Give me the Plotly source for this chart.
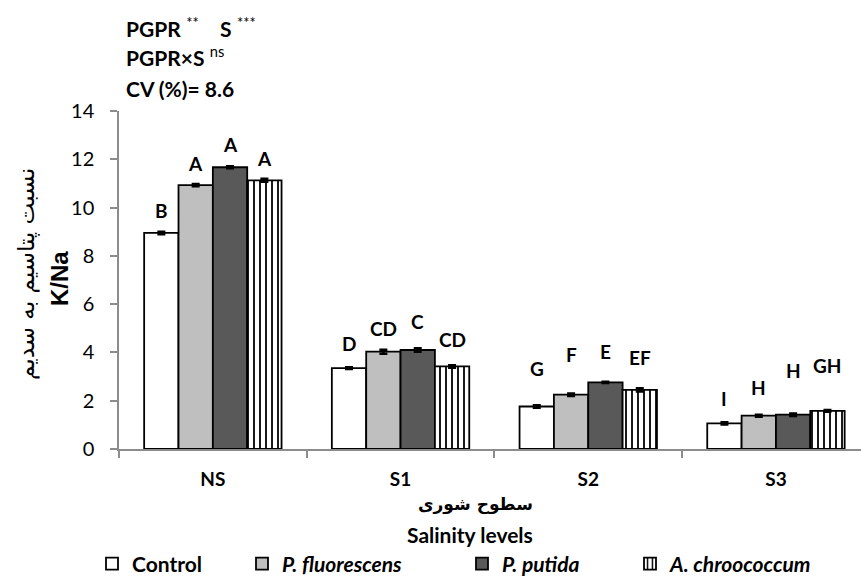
import plotly.graph_objects as go

categories = ["NS", "S1", "S2", "S3"]
series_names = ["Control", "P. fluorescens", "P. putida", "A. chroococcum"]
legend_labels = ["<b>Control</b>", "<b><i>P. fluorescens</i></b>", "<b><i>P. putida</i></b>", "<b><i>A. chroococcum</i></b>"]

control = [8.95, 3.35, 1.76, 1.06]
fluorescens = [10.93, 4.03, 2.25, 1.38]
putida = [11.67, 4.10, 2.76, 1.42]
chroococcum = [11.13, 3.42, 2.45, 1.58]

err_control = [0.05, 0.04, 0.05, 0.05]
err_fluorescens = [0.05, 0.08, 0.05, 0.04]
err_putida = [0.04, 0.07, 0.03, 0.05]
err_chroococcum = [0.06, 0.05, 0.07, 0.04]

letters_control = ["B", "D", "G", "I"]
letters_fluorescens = ["A", "CD", "F", "H"]
letters_putida = ["A", "C", "E", "H"]
letters_chroococcum = ["A", "CD", "EF", "GH"]

letter_y_control = [9.86, 4.39, 3.32, 2.08]
letter_y_fluorescens = [11.83, 5.00, 3.90, 2.56]
letter_y_putida = [12.60, 5.28, 4.04, 3.25]
letter_y_chroococcum = [12.04, 4.55, 3.81, 3.45]

values = [control, fluorescens, putida, chroococcum]
errors = [err_control, err_fluorescens, err_putida, err_chroococcum]
letters = [letters_control, letters_fluorescens, letters_putida, letters_chroococcum]
letter_ys = [letter_y_control, letter_y_fluorescens, letter_y_putida, letter_y_chroococcum]

fills = ["white", "#BFBFBF", "#595959", "white"]
LAT = "Lato, 'Open Sans', sans-serif"
FA = "'DejaVu Sans', sans-serif"

W, H = 861, 579
ML, MT, MB = 119, 111, 130
PW = W - ML
PH = H - MT - MB
cat_px = 187.7
bargap = 0.268

fig = go.Figure()
legend_ids = ["legend", "legend2", "legend3", "legend4"]
for j in range(4):
    kw = {}
    if j == 3:
        kw["pattern"] = dict(shape="|", fgcolor="black", bgcolor="white", size=6, solidity=0.3, fillmode="replace")
    fig.add_trace(go.Bar(
        x=categories, y=values[j], name=legend_labels[j],
        marker=dict(color=fills[j], line=dict(color="black", width=1.8), **kw),
        error_y=dict(type="data", array=errors[j], color="black", thickness=2.5, width=4),
        legend=legend_ids[j],
    ))

ann = []
bw = (1 - bargap) / 4
for j in range(4):
    for i in range(4):
        ann.append(dict(x=i + (j - 1.5) * bw, y=letter_ys[j][i], xref="x", yref="y",
                        text="<b>%s</b>" % letters[j][i], showarrow=False,
                        font=dict(family=LAT, size=19, color="black"), yanchor="middle"))

def px_x(p):
    return (p - ML) / PW

def px_y(p):
    return (MT + PH - p) / PH

head = [(124, 27, "<b>PGPR</b> <sup>**</sup>"),
        (218, 27, "<b>S</b> <sup>***</sup>"),
        (124, 56, "<b>PGPR×S</b> <sup>ns</sup>"),
        (124, 88, "<b>CV (%)= 8.6</b>")]
for hx, hy, t in head:
    ann.append(dict(x=px_x(hx), y=px_y(hy), xref="paper", yref="paper", text=t,
                    showarrow=False, xanchor="left", yanchor="middle",
                    font=dict(family=LAT, size=21, color="black")))

ann.append(dict(x=px_x(26), y=px_y(274), xref="paper", yref="paper", text="نسبت پتاسیم به سدیم",
                showarrow=False, textangle=-90, xanchor="center", yanchor="middle",
                font=dict(family=FA, size=23, color="black")))
ann.append(dict(x=px_x(59), y=px_y(279), xref="paper", yref="paper", text="<b>K/Na</b>",
                showarrow=False, textangle=-90, xanchor="center", yanchor="middle",
                font=dict(family="'Liberation Sans', Arial, sans-serif", size=24, color="black")))
ann.append(dict(x=px_x(475), y=px_y(504), xref="paper", yref="paper", text="<b>سطوح شوری</b>",
                showarrow=False, xanchor="center", yanchor="middle",
                font=dict(family=FA, size=17, color="black")))
ann.append(dict(x=px_x(470), y=px_y(534), xref="paper", yref="paper", text="<b>Salinity levels</b>",
                showarrow=False, xanchor="center", yanchor="middle",
                font=dict(family=LAT, size=21, color="black")))

layout_legends = {}
text_starts = [132, 282, 502, 670]
for j, lid in enumerate(legend_ids):
    layout_legends[lid] = dict(x=px_x(text_starts[j] - 40), y=px_y(564), xanchor="left", yanchor="middle",
                               orientation="h", bgcolor="rgba(0,0,0,0)",
                               font=dict(family=LAT, size=21, color="black"))

fig.update_layout(
    width=W, height=H,
    margin=dict(l=ML, r=0, t=MT, b=MB, pad=0, autoexpand=False),
    paper_bgcolor="white", plot_bgcolor="white",
    barmode="group", bargap=bargap, bargroupgap=0,
    showlegend=True,
    annotations=ann,
    xaxis=dict(type="category", range=[-0.5, -0.5 + PW / cat_px], showline=True, linecolor="#8C8C8C",
               linewidth=1.5, ticks="outside", tickson="boundaries", ticklen=7, tickcolor="#8C8C8C",
               tickwidth=1.5, showgrid=False, zeroline=False, ticklabelstandoff=12, automargin=False,
               tickfont=dict(family=LAT, size=19, color="black"),
               tickvals=categories, ticktext=["<b>%s</b>" % c for c in categories]),
    yaxis=dict(range=[0, 14], dtick=2, showline=True, linecolor="#8C8C8C", linewidth=1.5,
               ticks="outside", ticklen=7, tickcolor="#8C8C8C", tickwidth=1.5, showgrid=False,
               zeroline=False, ticklabelstandoff=12, automargin=False,
               tickfont=dict(family=LAT, size=20, color="black")),
    **layout_legends,
)

fig.write_html("out.html")
